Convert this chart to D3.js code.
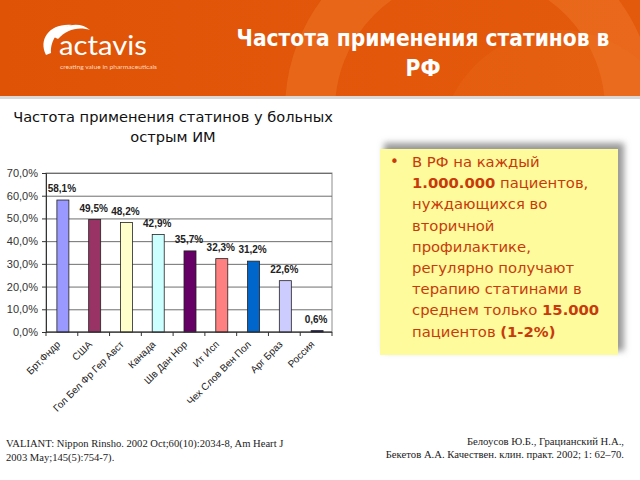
<!DOCTYPE html>
<html>
<head>
<meta charset="utf-8">
<script src="https://cdn.jsdelivr.net/npm/d3@7"></script>
<style>
  body { margin: 0; background: #fff; }
  svg { display: block; }
</style>
</head>
<body>
<svg id="slide" width="640" height="480"></svg>
<script>
// Chart data
const countries = ["Брт,Фндр", "США", "Гол Бел Фр Гер Авст", "Канада", "Шв Дан Нор",
                   "Ит Исп", "Чех Слов Вен Пол", "Арг Браз", "Россия"];
const rates = [58.1, 49.5, 48.2, 42.9, 35.7, 32.3, 31.2, 22.6, 0.6];
const barColors = ["#9999ff", "#993366", "#ffffcc", "#ccffff", "#660066",
                   "#ff8080", "#0066cc", "#ccccff", "#000080"];
const yTicks = [0, 10, 20, 30, 40, 50, 60, 70];

const bulletLines = [
    [["В РФ на каждый", false]],
    [["1.000.000", true], [" пациентов,", false]],
    [["нуждающихся во", false]],
    [["вторичной", false]],
    [["профилактике,", false]],
    [["регулярно получают", false]],
    [["терапию статинами в", false]],
    [["среднем только ", false], ["15.000", true]],
    [["пациентов ", false], ["(1-2%)", true]],
];

const svg = d3.select("#slide");
const fmt = v => v.toFixed(1).replace(".", ",") + "%";

// ---- header band ----
const defs = svg.append("defs");
const grad = defs.append("linearGradient").attr("id", "hdr").attr("x1", 0).attr("x2", 1);
grad.append("stop").attr("offset", 0).attr("stop-color", "#df5307");
grad.append("stop").attr("offset", 1).attr("stop-color", "#e45a0d");
svg.append("rect").attr("width", 640).attr("height", 96).attr("fill", "url(#hdr)");

// faint watermark curves
defs.append("clipPath").attr("id", "hclip").append("rect").attr("width", 640).attr("height", 96);
const hdr = svg.append("g").attr("clip-path", "url(#hclip)");
hdr.append("circle").attr("cx", 470).attr("cy", 110).attr("r", 160)
    .attr("fill", "none").attr("stroke", "#f58a3c").attr("stroke-opacity", 0.3).attr("stroke-width", 50);
hdr.append("circle").attr("cx", 560).attr("cy", 150).attr("r", 120)
    .attr("fill", "#f07a2a").attr("fill-opacity", 0.2);
svg.append("rect").attr("y", 96).attr("width", 640).attr("height", 3).attr("fill", "#d8d8d8");

// logo
const logo = svg.append("g");
logo.append("path").attr("d", "M46,55 C38,39 50,23 72,25 C60,28 50,39 51,53 Z").attr("fill", "#fff");
logo.append("path").attr("d", "M54,37 C62,24 80,21 90,30 C78,26 66,30 58,39 Z").attr("fill", "#fff");
logo.append("text").attr("x", 59).attr("y", 55).attr("fill", "#fff")
    .attr("font-family", "Lato, sans-serif").attr("font-size", 27)
    .attr("textLength", 88).attr("lengthAdjust", "spacingAndGlyphs")
    .text("actavis");
logo.append("text").attr("x", 60).attr("y", 69).attr("fill", "#ffd9bf")
    .attr("font-family", "Lato, sans-serif").attr("font-size", 5.8)
    .attr("textLength", 97).attr("lengthAdjust", "spacingAndGlyphs")
    .text("creating value in pharmaceuticals");

// slide title
const title = svg.append("text").attr("fill", "#fff").attr("text-anchor", "middle")
    .attr("font-family", "DejaVu Sans Condensed, sans-serif").attr("font-size", 22.5).attr("font-weight", "bold");
title.append("tspan").attr("x", 423).attr("y", 46).text("Частота применения статинов в");
title.append("tspan").attr("x", 423).attr("y", 76).text("РФ");

// ---- chart ----
const chartTitle = svg.append("text").attr("text-anchor", "middle").attr("fill", "#111")
    .attr("font-family", "DejaVu Sans, sans-serif").attr("font-size", 14.6);
chartTitle.append("tspan").attr("x", 173).attr("y", 122).text("Частота применения статинов у больных");
chartTitle.append("tspan").attr("x", 173).attr("y", 142).text("острым ИМ");

const plot = { left: 46, right: 332, top: 173, bottom: 332 };

const x = d3.scaleBand().domain(countries).range([plot.left, plot.right]).paddingInner(0).paddingOuter(0);
const y = d3.scaleLinear().domain([0, 70]).range([plot.bottom, plot.top]);

// plot frame and gridlines
svg.append("rect").attr("x", plot.left).attr("y", plot.top)
    .attr("width", plot.right - plot.left).attr("height", plot.bottom - plot.top)
    .attr("fill", "#fff").attr("stroke", "#8c8c8c");

svg.append("g").attr("transform", `translate(${plot.left},0)`)
    .call(d3.axisLeft(y).tickValues(yTicks).tickSize(-(plot.right - plot.left)).tickFormat(""))
    .call(g => g.select(".domain").remove())
    .selectAll("line").attr("stroke", "#6e6e6e");

// y axis
svg.append("g").attr("transform", `translate(${plot.left},0)`)
    .call(d3.axisLeft(y).tickValues(yTicks).tickSize(4).tickPadding(4)
        .tickFormat(d => d.toFixed(1).replace(".", ",") + "%"))
    .call(g => g.select(".domain").attr("stroke", "#333"))
    .call(g => g.selectAll("line").attr("stroke", "#333"))
    .selectAll("text").attr("font-family", "Liberation Sans, Arial, sans-serif")
    .attr("font-size", 11).attr("fill", "#333");

// bars
const barW = 12;
svg.append("g").selectAll("rect").data(rates).join("rect")
    .attr("x", (d, i) => x(countries[i]) + x.bandwidth() / 2 - barW / 2 + 1)
    .attr("y", d => y(d))
    .attr("width", barW)
    .attr("height", d => y(0) - y(d))
    .attr("fill", (d, i) => barColors[i])
    .attr("stroke", "#222").attr("stroke-width", 0.8);

// value labels
svg.append("g").selectAll("text").data(rates).join("text")
    .attr("x", (d, i) => x(countries[i]) + x.bandwidth() / 2)
    .attr("y", d => y(d) - 8)
    .attr("text-anchor", "middle")
    .attr("font-family", "Liberation Sans, Arial, sans-serif").attr("font-size", 10)
    .attr("font-weight", "bold").attr("fill", "#222")
    .text(fmt);

// x axis with ticks at category boundaries
const xAxis = svg.append("g").attr("transform", `translate(0,${plot.bottom})`);
xAxis.append("line").attr("x1", plot.left).attr("x2", plot.right).attr("stroke", "#333");
xAxis.selectAll("line.tk").data(d3.range(countries.length + 1)).join("line")
    .attr("class", "tk")
    .attr("x1", i => plot.left + i * x.step()).attr("x2", i => plot.left + i * x.step())
    .attr("y1", 0).attr("y2", 4).attr("stroke", "#333");
xAxis.selectAll("text").data(countries).join("text")
    .attr("transform", d => `translate(${x(d) + x.bandwidth() / 2 - 1},13) rotate(-45)`)
    .attr("text-anchor", "end")
    .attr("font-family", "Liberation Sans, Arial, sans-serif").attr("font-size", 10)
    .attr("fill", "#222")
    .text(d => d);

// ---- bullet box ----
defs.append("filter").attr("id", "blur").append("feGaussianBlur").attr("stdDeviation", 3);
svg.append("rect").attr("x", 384).attr("y", 143).attr("width", 240).attr("height", 208)
    .attr("fill", "#9a9a9a").attr("filter", "url(#blur)");
svg.append("rect").attr("x", 380).attr("y", 149).attr("width", 238).attr("height", 206)
    .attr("fill", "#fdfb9c");

svg.append("text").attr("x", 390).attr("y", 167).attr("fill", "#c83a0a")
    .attr("font-family", "DejaVu Sans, sans-serif").attr("font-size", 15).text("•");
const bt = svg.append("g").attr("font-family", "DejaVu Sans, sans-serif")
    .attr("font-size", 14.8).attr("fill", "#c83a0a");
bulletLines.forEach((parts, i) => {
    const t = bt.append("text").attr("x", 412).attr("y", 167 + i * 21.2);
    parts.forEach(([s, b]) => t.append("tspan").attr("font-weight", b ? "bold" : "normal").text(s));
});

// ---- footnotes ----
const f1 = svg.append("text").attr("font-family", "Liberation Serif, Times New Roman, serif")
    .attr("font-size", 10.6).attr("fill", "#222");
f1.append("tspan").attr("x", 6).attr("y", 447).text("VALIANT: Nippon Rinsho. 2002 Oct;60(10):2034-8, Am Heart J");
f1.append("tspan").attr("x", 6).attr("y", 461).text("2003 May;145(5):754-7).");

const f2 = svg.append("text").attr("font-family", "Liberation Serif, Times New Roman, serif")
    .attr("font-size", 10.7).attr("fill", "#222").attr("text-anchor", "end");
f2.append("tspan").attr("x", 624).attr("y", 445).text("Белоусов Ю.Б., Грацианский Н.А.,");
f2.append("tspan").attr("x", 624).attr("y", 458).text("Бекетов А.А. Качествен. клин. практ. 2002; 1: 62–70.");
</script>
</body>
</html>
